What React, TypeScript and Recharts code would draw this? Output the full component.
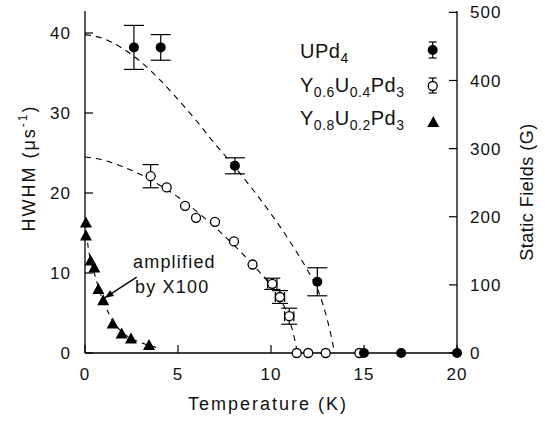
import React from 'react';
import { ComposedChart, Scatter, Line, XAxis, YAxis, ErrorBar, ReferenceLine } from 'recharts';

// UPd4 (filled circles): temperature (K), HWHM (us^-1), error
const upd4 = [
  { t: 2.63, h: 38.2, e: 2.75 },
  { t: 4.07, h: 38.2, e: 1.6 },
  { t: 8.06, h: 23.4, e: 1.0 },
  { t: 12.49, h: 8.9, e: 1.75 },
  { t: 15.0, h: 0 },
  { t: 17.0, h: 0 },
  { t: 20.0, h: 0 },
];

// Y0.6U0.4Pd3 (open circles)
const y06 = [
  { t: 3.53, h: 22.1, e: 1.45 },
  { t: 4.39, h: 20.7 },
  { t: 5.38, h: 18.4 },
  { t: 5.97, h: 16.9 },
  { t: 6.99, h: 16.4 },
  { t: 8.01, h: 13.95 },
  { t: 9.01, h: 11.06 },
  { t: 10.07, h: 8.65, e: 0.7, ex: 0.25 },
  { t: 10.48, h: 7.0, e: 0.8, ex: 0.25 },
  { t: 10.98, h: 4.6, e: 1.0, ex: 0.25 },
  { t: 11.38, h: 0 },
  { t: 12.0, h: 0 },
  { t: 12.94, h: 0 },
  { t: 14.75, h: 0 },
];

// Y0.8U0.2Pd3 (triangles, amplified by x100)
const y08 = [
  { t: 0.05, h: 16.3 },
  { t: 0.05, h: 14.7 },
  { t: 0.3, h: 11.55 },
  { t: 0.5, h: 10.7 },
  { t: 0.72, h: 8.0 },
  { t: 0.98, h: 6.6 },
  { t: 1.49, h: 3.7 },
  { t: 1.97, h: 2.45 },
  { t: 2.47, h: 1.8 },
  { t: 3.44, h: 1.0 },
];

// dashed guide curves
const fitUPd4 = [
  { t: 0, h: 39.8 }, { t: 1, h: 39.3 }, { t: 2, h: 38.1 }, { t: 3, h: 36.4 },
  { t: 4, h: 34.2 }, { t: 5, h: 31.7 }, { t: 6, h: 29.0 }, { t: 7, h: 26.1 },
  { t: 8, h: 23.4 }, { t: 9, h: 20.5 }, { t: 10, h: 17.4 }, { t: 11, h: 14.0 },
  { t: 12, h: 10.2 }, { t: 12.5, h: 8.0 }, { t: 12.8, h: 6.0 }, { t: 13.0, h: 4.4 },
  { t: 13.2, h: 2.5 }, { t: 13.42, h: 0 },
];
const fitY06 = [
  { t: 0, h: 24.5 }, { t: 1, h: 24.1 }, { t: 2, h: 23.3 }, { t: 3, h: 22.3 },
  { t: 4, h: 21.0 }, { t: 5, h: 19.5 }, { t: 6, h: 17.7 }, { t: 7, h: 15.7 },
  { t: 8, h: 13.5 }, { t: 9, h: 11.1 }, { t: 10, h: 8.4 }, { t: 10.5, h: 6.7 },
  { t: 10.9, h: 4.8 }, { t: 11.1, h: 3.3 }, { t: 11.3, h: 1.4 }, { t: 11.42, h: 0 },
];
const fitY08 = [
  { t: 0.05, h: 16.3 }, { t: 0.15, h: 13.6 }, { t: 0.3, h: 11.7 }, { t: 0.5, h: 10.0 },
  { t: 0.75, h: 8.0 }, { t: 1.0, h: 6.4 }, { t: 1.5, h: 4.0 }, { t: 2.0, h: 2.6 },
  { t: 2.5, h: 1.8 }, { t: 3.0, h: 1.3 }, { t: 3.5, h: 0.9 }, { t: 4.0, h: 0.6 },
];

const xTicks = [0, 5, 10, 15, 20];
const topTicks = [5, 10, 15];
const leftTicks = [0, 10, 20, 30, 40];
const rightTicks = [0, 100, 200, 300, 400, 500];
const arrowSegment = [{ x: 2.78, y: 9.48 }, { x: 1.08, y: 6.92 }];

const FONT = '"Liberation Sans", Arial, sans-serif';
const INK = '#111';
const tickStyle = { fill: INK, fontSize: 17, fontFamily: FONT, letterSpacing: 1 };

const FilledCircle = (p: any) => <circle cx={p.cx} cy={p.cy} r={5} fill="#000" />;
const OpenCircle = (p: any) => (
  <circle cx={p.cx} cy={p.cy} r={4.5} fill="#fff" stroke="#000" strokeWidth={1.3} />
);
const Triangle = (p: any) => (
  <polygon
    points={`${p.cx},${p.cy - 6} ${p.cx - 6},${p.cy + 5} ${p.cx + 6},${p.cy + 5}`}
    fill="#000"
  />
);

const Arrow = (p: any) => {
  const { x1, y1, x2, y2 } = p;
  const ang = Math.atan2(y2 - y1, x2 - x1);
  const L = 9;
  const w = 0.4;
  const ax = x2 - L * Math.cos(ang - w);
  const ay = y2 - L * Math.sin(ang - w);
  const bx = x2 - L * Math.cos(ang + w);
  const by = y2 - L * Math.sin(ang + w);
  return (
    <g>
      <line x1={x1} y1={y1} x2={x2} y2={y2} stroke="#000" strokeWidth={1.3} />
      <polygon points={`${x2},${y2} ${ax},${ay} ${bx},${by}`} fill="#000" />
    </g>
  );
};

export default function App() {
  return (
    <div style={{ position: 'absolute', left: 0, top: 0, width: 545, height: 422, background: '#fff' }}>
      <ComposedChart
        width={545}
        height={422}
        margin={{ top: 11, right: 0, bottom: 0, left: 0 }}
      >
        <XAxis
          xAxisId="b"
          dataKey="t"
          type="number"
          domain={[0, 20]}
          ticks={xTicks}
          height={69}
          tickSize={-8}
          tickMargin={23}
          tick={tickStyle}
          stroke="#000"
          axisLine={{ stroke: '#000', strokeWidth: 1.3 }}
          tickLine={{ stroke: '#000', strokeWidth: 1.2 }}
        />
        <XAxis
          xAxisId="top"
          orientation="top"
          type="number"
          domain={[0, 20]}
          allowDataOverflow
          ticks={topTicks}
          height={0}
          tickSize={-8}
          tick={false}
          axisLine={{ stroke: '#000', strokeWidth: 1.3 }}
          tickLine={{ stroke: '#000', strokeWidth: 1.2 }}
        />
        <YAxis
          yAxisId="l"
          type="number"
          domain={[0, 42.75]}
          ticks={leftTicks}
          width={85}
          tickSize={-8}
          tickMargin={22}
          tick={tickStyle}
          axisLine={{ stroke: '#000', strokeWidth: 1.3 }}
          tickLine={{ stroke: '#000', strokeWidth: 1.2 }}
        />
        <YAxis
          yAxisId="r"
          orientation="right"
          type="number"
          domain={[0, 502]}
          allowDataOverflow
          ticks={rightTicks}
          width={88}
          tickSize={-8}
          tickMargin={21}
          tick={tickStyle}
          axisLine={{ stroke: '#000', strokeWidth: 1.3 }}
          tickLine={{ stroke: '#000', strokeWidth: 1.2 }}
        />

        <Line
          xAxisId="b"
          yAxisId="l"
          data={fitUPd4}
          dataKey="h"
          type="monotone"
          dot={false}
          stroke="#000"
          strokeWidth={1.1}
          strokeDasharray="6 5"
          isAnimationActive={false}
        />
        <Line
          xAxisId="b"
          yAxisId="l"
          data={fitY06}
          dataKey="h"
          type="monotone"
          dot={false}
          stroke="#000"
          strokeWidth={1.1}
          strokeDasharray="6 5"
          isAnimationActive={false}
        />
        <Line
          xAxisId="b"
          yAxisId="l"
          data={fitY08}
          dataKey="h"
          type="monotone"
          dot={false}
          stroke="#000"
          strokeWidth={1.1}
          strokeDasharray="5 5"
          isAnimationActive={false}
        />

        <Scatter
          xAxisId="b"
          yAxisId="l"
          data={y08}
          dataKey="h"
          shape={Triangle}
          isAnimationActive={false}
        />
        <Scatter
          xAxisId="b"
          yAxisId="l"
          data={y06}
          dataKey="h"
          shape={OpenCircle}
          isAnimationActive={false}
        >
          <ErrorBar dataKey="e" direction="y" width={8} stroke="#000" strokeWidth={1.2} />
          <ErrorBar dataKey="ex" direction="x" width={5} stroke="#000" strokeWidth={1.2} />
        </Scatter>
        <Scatter
          xAxisId="b"
          yAxisId="l"
          data={upd4}
          dataKey="h"
          shape={FilledCircle}
          isAnimationActive={false}
        >
          <ErrorBar dataKey="e" direction="y" width={10} stroke="#000" strokeWidth={1.2} />
        </Scatter>

        <ReferenceLine
          xAxisId="b"
          yAxisId="l"
          segment={arrowSegment}
          shape={Arrow}
          ifOverflow="visible"
        />
      </ComposedChart>

      <svg
        width={545}
        height={422}
        style={{ position: 'absolute', left: 0, top: 0, pointerEvents: 'none' }}
        fontFamily={FONT}
        fill={INK}
      >
        {/* axis titles */}
        <text x={268} y={410} textAnchor="middle" fontSize={18} letterSpacing={2}>
          Temperature (K)
        </text>
        <text
          transform="translate(35,168) rotate(-90)"
          textAnchor="middle"
          fontSize={18}
          letterSpacing={2}
        >
          HWHM (μs<tspan fontSize={12} dy={-8}>-1</tspan><tspan dy={8}>)</tspan>
        </text>
        <text
          transform="translate(533,192) rotate(-90)"
          textAnchor="middle"
          fontSize={18}
          letterSpacing={0.5}
        >
          Static Fields (G)
        </text>

        {/* annotation */}
        <text x={133} y={268} fontSize={18} letterSpacing={1.2}>amplified</text>
        <text x={135} y={293} fontSize={18} letterSpacing={1.2}>by  X100</text>

        {/* legend */}
        <text x={300} y={58} fontSize={20} letterSpacing={0.5}>
          UPd<tspan fontSize={14} dy={5}>4</tspan>
        </text>
        <text x={300} y={92} fontSize={20} letterSpacing={0.5}>
          Y<tspan fontSize={14} dy={5}>0.6</tspan>
          <tspan dy={-5}>U</tspan><tspan fontSize={14} dy={5}>0.4</tspan>
          <tspan dy={-5}>Pd</tspan><tspan fontSize={14} dy={5}>3</tspan>
        </text>
        <text x={300} y={125} fontSize={20} letterSpacing={0.5}>
          Y<tspan fontSize={14} dy={5}>0.8</tspan>
          <tspan dy={-5}>U</tspan><tspan fontSize={14} dy={5}>0.2</tspan>
          <tspan dy={-5}>Pd</tspan><tspan fontSize={14} dy={5}>3</tspan>
        </text>
        <g stroke="#000" strokeWidth={1.2}>
          <line x1={432.7} y1={42} x2={432.7} y2={58} />
          <line x1={428.7} y1={42} x2={436.7} y2={42} />
          <line x1={428.7} y1={58} x2={436.7} y2={58} />
          <line x1={432.7} y1={78} x2={432.7} y2={93} />
          <line x1={428.7} y1={78} x2={436.7} y2={78} />
          <line x1={428.7} y1={93} x2={436.7} y2={93} />
        </g>
        <circle cx={432.7} cy={50} r={5} fill="#000" />
        <circle cx={432.7} cy={86} r={4.5} fill="#fff" stroke="#000" strokeWidth={1.3} />
        <polygon points="433.3,116 427.3,127 439.3,127" fill="#000" />
      </svg>
    </div>
  );
}
